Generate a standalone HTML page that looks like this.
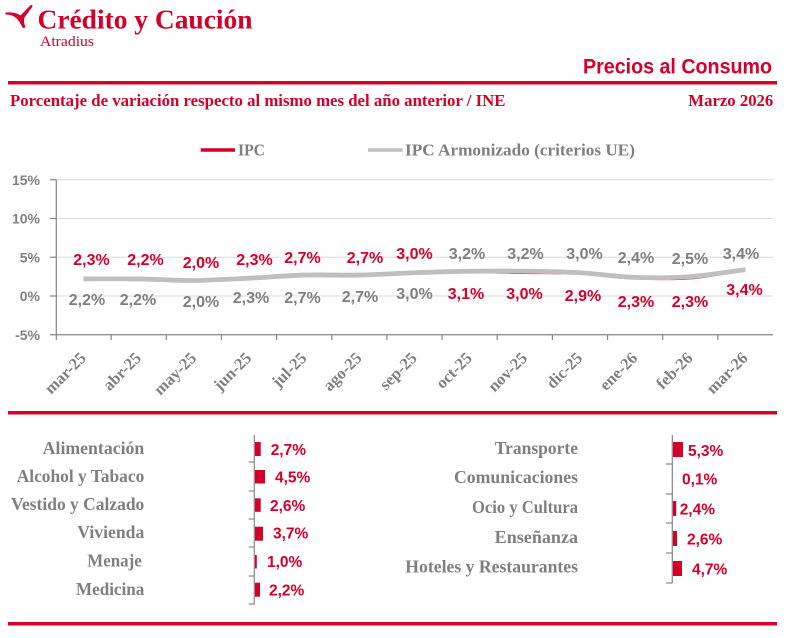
<!DOCTYPE html>
<html>
<head>
<meta charset="utf-8">
<style>
  html,body{margin:0;padding:0;background:#fff;}
  svg{display:block;}
  .ser{font-family:"Liberation Serif",serif;font-weight:bold;}
  .san{font-family:"Liberation Sans",sans-serif;font-weight:bold;}
</style>
</head>
<body>
<svg width="793" height="638" viewBox="0 0 793 638" xmlns="http://www.w3.org/2000/svg">
  <rect width="793" height="638" fill="#fff"/>

  <!-- Logo -->
  <path d="M5.5,12.5 C12,12 17,13 20.5,15.5 L30.5,5.2 C31.8,4.5 33,5.5 32.3,6.8 L24.5,17.5 C23.5,20.5 24,24 25.5,27 C24.5,28.2 23,28.3 22.3,27.3 C20,22 17,17.5 12,15.5 C10,14.8 7.5,14.6 5.5,14.5 Z" fill="#d4002a"/>
  <text x="37.5" y="28.3" class="ser" font-size="27" fill="#d4002a" textLength="215" lengthAdjust="spacingAndGlyphs">Crédito y Caución</text>
  <text x="40" y="46" font-family="Liberation Serif, serif" font-size="14.5" fill="#d4002a" textLength="54" lengthAdjust="spacingAndGlyphs">Atradius</text>

  <text x="583" y="73.3" class="san" font-size="21.5" fill="#d4002a" textLength="189" lengthAdjust="spacingAndGlyphs">Precios al Consumo</text>

  <rect x="8" y="81" width="769" height="3.5" fill="#d4002a"/>

  <text x="10" y="106" class="ser" font-size="16.5" fill="#d4002a" textLength="495.5" lengthAdjust="spacingAndGlyphs">Porcentaje de variación respecto al mismo mes del año anterior / INE</text>
  <text x="688.3" y="106" class="ser" font-size="16.5" fill="#d4002a" textLength="85" lengthAdjust="spacingAndGlyphs">Marzo 2026</text>

  <!-- Legend -->
  <line x1="200.7" y1="150" x2="235" y2="150" stroke="#d4002a" stroke-width="3.5"/>
  <text x="238" y="155.5" class="ser" font-size="16.5" fill="#7f7f7f" textLength="27" lengthAdjust="spacingAndGlyphs">IPC</text>
  <line x1="368" y1="150" x2="402.7" y2="150" stroke="#bfbfbf" stroke-width="3.5"/>
  <text x="405" y="155.3" class="ser" font-size="16.5" fill="#7f7f7f" textLength="230" lengthAdjust="spacingAndGlyphs">IPC Armonizado (criterios UE)</text>

  <!-- Grid -->
  <g stroke="#d9d9d9" stroke-width="1">
    <line x1="56" y1="179.75" x2="773" y2="179.75"/>
    <line x1="56" y1="218.5" x2="773" y2="218.5"/>
    <line x1="56" y1="257.25" x2="773" y2="257.25"/>
    <line x1="56" y1="296" x2="773" y2="296"/>
  </g>
  <g stroke="#868686" stroke-width="1.2">
    <line x1="56.3" y1="179.75" x2="56.3" y2="334.75"/>
    <line x1="50" y1="334.75" x2="773" y2="334.75"/>
    <line x1="50" y1="179.75" x2="56.3" y2="179.75"/>
    <line x1="50" y1="218.5" x2="56.3" y2="218.5"/>
    <line x1="50" y1="257.25" x2="56.3" y2="257.25"/>
    <line x1="50" y1="296" x2="56.3" y2="296"/>
    <line x1="56.3" y1="334.75" x2="56.3" y2="340"/>
    <line x1="111.15" y1="334.75" x2="111.15" y2="340"/>
    <line x1="166.3" y1="334.75" x2="166.3" y2="340"/>
    <line x1="221.46" y1="334.75" x2="221.46" y2="340"/>
    <line x1="276.6" y1="334.75" x2="276.6" y2="340"/>
    <line x1="331.77" y1="334.75" x2="331.77" y2="340"/>
    <line x1="386.9" y1="334.75" x2="386.9" y2="340"/>
    <line x1="442.08" y1="334.75" x2="442.08" y2="340"/>
    <line x1="497.23" y1="334.75" x2="497.23" y2="340"/>
    <line x1="552.4" y1="334.75" x2="552.4" y2="340"/>
    <line x1="607.54" y1="334.75" x2="607.54" y2="340"/>
    <line x1="662.7" y1="334.75" x2="662.7" y2="340"/>
    <line x1="717.85" y1="334.75" x2="717.85" y2="340"/>
  </g>

  <!-- Y labels -->
  <g class="san" font-size="14" fill="#7f7f7f" text-anchor="end">
    <text x="40" y="185">15%</text>
    <text x="40" y="223.5">10%</text>
    <text x="40" y="262.3">5%</text>
    <text x="40" y="301">0%</text>
    <text x="40" y="339.8">-5%</text>
  </g>

  <!-- Series -->
  <path d="M83.58,278.18 C92.77,278.31 120.35,278.56 138.73,278.95 C157.11,279.34 175.50,280.63 193.88,280.5 C212.26,280.37 230.66,279.08 249.04,278.18 C267.42,277.28 285.81,275.60 304.19,275.08 C322.57,274.56 340.97,275.47 359.35,275.08 C377.73,274.69 396.12,273.27 414.5,272.75 C432.88,272.23 451.27,271.98 469.65,271.98 C488.03,271.98 506.43,272.49 524.81,272.75 C543.19,273.01 561.58,272.63 579.96,273.53 C598.34,274.43 616.74,277.41 635.12,278.18 C653.50,278.96 671.89,279.60 690.27,278.18 C708.65,276.76 736.23,271.07 745.42,269.65" fill="none" stroke="#d4002a" stroke-width="2.5"/>
  <path d="M83.58,278.95 C92.77,278.95 120.35,278.69 138.73,278.95 C157.11,279.21 175.50,280.63 193.88,280.5 C212.26,280.37 230.66,279.08 249.04,278.18 C267.42,277.28 285.81,275.60 304.19,275.08 C322.57,274.56 340.97,275.47 359.35,275.08 C377.73,274.69 396.12,273.40 414.5,272.75 C432.88,272.10 451.27,271.46 469.65,271.2 C488.03,270.94 506.43,270.94 524.81,271.2 C543.19,271.46 561.58,271.72 579.96,272.75 C598.34,273.78 616.74,276.75 635.12,277.4 C653.50,278.05 671.89,277.92 690.27,276.63 C708.65,275.34 736.23,270.81 745.42,269.65" fill="none" stroke="#bfbfbf" stroke-width="4.8"/>

  <!-- Data labels IPC (red) -->
  <g class="san" font-size="16" fill="#d4002a" text-anchor="middle">
    <text x="91.5" y="265">2,3%</text>
    <text x="145.5" y="265">2,2%</text>
    <text x="201" y="268">2,0%</text>
    <text x="254.5" y="265">2,3%</text>
    <text x="302.5" y="263">2,7%</text>
    <text x="365" y="263">2,7%</text>
    <text x="414.5" y="259">3,0%</text>
    <text x="466" y="299">3,1%</text>
    <text x="524.5" y="299">3,0%</text>
    <text x="583" y="301">2,9%</text>
    <text x="636" y="307">2,3%</text>
    <text x="690" y="307">2,3%</text>
    <text x="744.5" y="295">3,4%</text>
  </g>
  <!-- Data labels IPCA (gray) -->
  <g class="san" font-size="16" fill="#7f7f7f" text-anchor="middle">
    <text x="87" y="305">2,2%</text>
    <text x="138" y="305">2,2%</text>
    <text x="201" y="307">2,0%</text>
    <text x="251" y="303">2,3%</text>
    <text x="302.5" y="303">2,7%</text>
    <text x="360" y="302">2,7%</text>
    <text x="414.5" y="299">3,0%</text>
    <text x="467" y="259">3,2%</text>
    <text x="525.5" y="259">3,2%</text>
    <text x="584.5" y="259">3,0%</text>
    <text x="636" y="263">2,4%</text>
    <text x="690" y="264">2,5%</text>
    <text x="741" y="259">3,4%</text>
  </g>

  <!-- X labels -->
  <g class="ser" font-size="16.5" fill="#7f7f7f" text-anchor="end">
    <text transform="translate(87,359) rotate(-45)">mar-25</text>
    <text transform="translate(142.1,359) rotate(-45)">abr-25</text>
    <text transform="translate(197.3,359) rotate(-45)">may-25</text>
    <text transform="translate(252.4,359) rotate(-45)">jun-25</text>
    <text transform="translate(307.6,359) rotate(-45)">jul-25</text>
    <text transform="translate(362.7,359) rotate(-45)">ago-25</text>
    <text transform="translate(417.9,359) rotate(-45)">sep-25</text>
    <text transform="translate(473,359) rotate(-45)">oct-25</text>
    <text transform="translate(528.2,359) rotate(-45)">nov-25</text>
    <text transform="translate(583.4,359) rotate(-45)">dic-25</text>
    <text transform="translate(638.5,359) rotate(-45)">ene-26</text>
    <text transform="translate(693.7,359) rotate(-45)">feb-26</text>
    <text transform="translate(748.8,359) rotate(-45)">mar-26</text>
  </g>

  <!-- Section lines -->
  <rect x="8" y="411" width="769" height="3.5" fill="#d4002a"/>
  <rect x="8" y="622" width="769" height="3.5" fill="#d4002a"/>

  <!-- Left bar chart -->
  <g class="ser" font-size="17.5" fill="#7f7f7f">
    <text x="42.7" y="454" textLength="101.6" lengthAdjust="spacingAndGlyphs">Alimentación</text>
    <text x="16.7" y="482" textLength="127.6" lengthAdjust="spacingAndGlyphs">Alcohol y Tabaco</text>
    <text x="11" y="510" textLength="133.3" lengthAdjust="spacingAndGlyphs">Vestido y Calzado</text>
    <text x="77.3" y="538" textLength="67" lengthAdjust="spacingAndGlyphs">Vivienda</text>
    <text x="87.3" y="566.5" textLength="54.4" lengthAdjust="spacingAndGlyphs">Menaje</text>
    <text x="76" y="595" textLength="68.3" lengthAdjust="spacingAndGlyphs">Medicina</text>
  </g>
  <g fill="#d4002a">
    <rect x="255" y="442" width="5.7" height="14"/>
    <rect x="255" y="470" width="10" height="13.5"/>
    <rect x="255" y="498.3" width="5.7" height="13.5"/>
    <rect x="255" y="526.7" width="8" height="14"/>
    <rect x="255" y="555" width="1.8" height="13.5"/>
    <rect x="255" y="582.7" width="5" height="14"/>
  </g>
  <g stroke="#868686" stroke-width="1.2">
    <line x1="254.3" y1="435" x2="254.3" y2="604"/>
    <line x1="248.7" y1="462" x2="254.3" y2="462"/>
    <line x1="248.7" y1="491" x2="254.3" y2="491"/>
    <line x1="248.7" y1="519" x2="254.3" y2="519"/>
    <line x1="248.7" y1="547" x2="254.3" y2="547"/>
    <line x1="248.7" y1="576" x2="254.3" y2="576"/>
    <line x1="248.7" y1="604" x2="254.3" y2="604"/>
  </g>
  <g class="san" font-size="15.5" fill="#d4002a">
    <text x="270.7" y="455">2,7%</text>
    <text x="275" y="482.5">4,5%</text>
    <text x="270" y="511">2,6%</text>
    <text x="273" y="538.5">3,7%</text>
    <text x="267" y="567">1,0%</text>
    <text x="269" y="595.3">2,2%</text>
  </g>

  <!-- Right bar chart -->
  <g class="ser" font-size="17.5" fill="#7f7f7f">
    <text x="494.7" y="454" textLength="83.3" lengthAdjust="spacingAndGlyphs">Transporte</text>
    <text x="454" y="483" textLength="124" lengthAdjust="spacingAndGlyphs">Comunicaciones</text>
    <text x="472" y="513" textLength="106" lengthAdjust="spacingAndGlyphs">Ocio y Cultura</text>
    <text x="494.7" y="543" textLength="83.3" lengthAdjust="spacingAndGlyphs">Enseñanza</text>
    <text x="405.3" y="572.7" textLength="172.7" lengthAdjust="spacingAndGlyphs">Hoteles y Restaurantes</text>
  </g>
  <g fill="#d4002a">
    <rect x="673" y="442" width="10" height="15"/>
    <rect x="673" y="501" width="3.2" height="15"/>
    <rect x="673" y="531" width="4" height="15"/>
    <rect x="673" y="561" width="9" height="15"/>
  </g>
  <g stroke="#868686" stroke-width="1.2">
    <line x1="672.3" y1="435" x2="672.3" y2="583"/>
    <line x1="666" y1="464" x2="672.3" y2="464"/>
    <line x1="666" y1="494" x2="672.3" y2="494"/>
    <line x1="666" y1="523" x2="672.3" y2="523"/>
    <line x1="666" y1="553" x2="672.3" y2="553"/>
    <line x1="666" y1="583" x2="672.3" y2="583"/>
  </g>
  <g class="san" font-size="15.5" fill="#d4002a">
    <text x="688" y="456">5,3%</text>
    <text x="682" y="484.3">0,1%</text>
    <text x="679.7" y="514.3">2,4%</text>
    <text x="687" y="544.3">2,6%</text>
    <text x="692" y="574.3">4,7%</text>
  </g>
</svg>
</body>
</html>
